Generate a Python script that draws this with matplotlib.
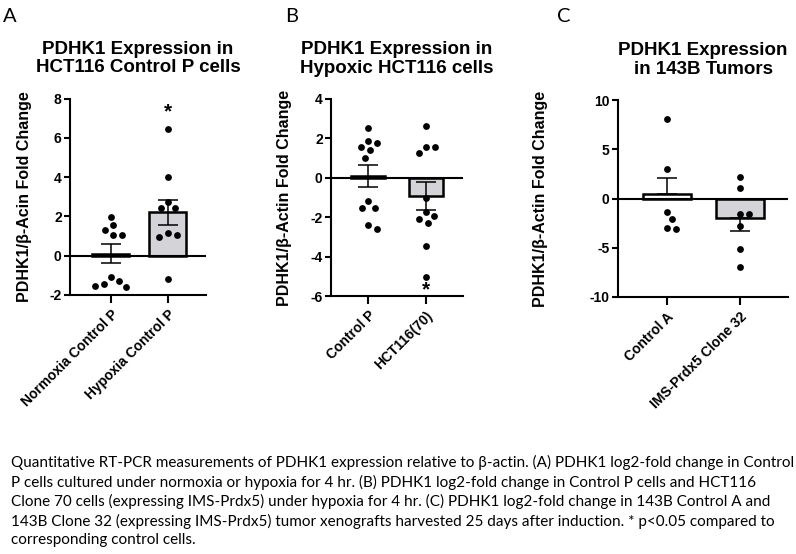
import numpy as np
import matplotlib.pyplot as plt

plt.rcParams['font.family'] = ['Liberation Sans', 'DejaVu Sans']
plt.rcParams['axes.unicode_minus'] = False

# ---- data ----
# Panel A
a_labels = ['Normoxia Control P', 'Hypoxia Control P']
a_normoxia = [1.98, 1.54, 1.29, 1.07, 1.07, -1.10, -1.30, -1.42, -1.56, -1.60]
a_hypoxia = [6.44, 4.03, 2.71, 2.42, 2.42, 1.15, 1.07, 0.95, -1.19]
a_means = [0.10, 2.20]
a_sems = [0.47, 0.64]

# Panel B
b_labels = ['Control P', 'HCT116(70)']
b_control = [2.54, 1.86, 1.75, 1.58, 1.41, 1.02, -1.17, -1.51, -1.51, -2.42, -2.58]
b_clone70 = [2.64, 1.58, 1.58, 1.24, -1.05, -1.75, -1.93, -2.08, -2.27, -3.46, -5.03]
b_means = [0.10, -0.92]
b_sems = [0.57, 0.72]

# Panel C
c_labels = ['Control A', 'IMS-Prdx5 Clone 32']
c_control = [8.03, 2.98, -1.36, -2.10, -2.95, -3.05]
c_clone32 = [2.14, 1.08, -1.60, -1.60, -2.75, -5.08, -6.95]
c_means = [0.45, -2.03]
c_sems = [1.60, 1.27]

caption = ("Quantitative RT-PCR measurements of PDHK1 expression relative to \u03b2-actin. (A) PDHK1 log2-fold change in Control\n"
           "P cells cultured under normoxia or hypoxia for 4 hr. (B) PDHK1 log2-fold change in Control P cells and HCT116\n"
           "Clone 70 cells (expressing IMS-Prdx5) under hypoxia for 4 hr. (C) PDHK1 log2-fold change in 143B Control A and\n"
           "143B Clone 32 (expressing IMS-Prdx5) tumor xenografts harvested 25 days after induction. * p<0.05 compared to\n"
           "corresponding control cells.")

W, H = 796, 554
fig = plt.figure(figsize=(W / 100, H / 100), dpi=100)


def swarm(values, ppu_y, min_d=9.0, step=0.5):
    # simple greedy beeswarm, offsets in pixels
    order = np.argsort(values)[::-1]
    placed = []
    offs = np.zeros(len(values))
    for i in order:
        y = values[i] * ppu_y
        k = 0
        while True:
            cands = [0.0] if k == 0 else [k * step, -k * step]
            ok = None
            for dx in cands:
                if all((dx - px) ** 2 + (y - py) ** 2 >= min_d ** 2 for px, py in placed):
                    ok = dx
                    break
            if ok is not None:
                break
            k += 1
        offs[i] = ok
        placed.append((ok, y))
    return offs


def panel(rect_px, groups, labels, means, sems, ylim, yticks, xlim, bar_w,
          title, ylabel, ylabel_px, letter, letter_px, one_sided=False, stars=()):
    l, t, r, b = rect_px
    ax = fig.add_axes([l / W, 1 - b / H, (r - l) / W, (b - t) / H])
    ax.set_xlim(*xlim)
    ax.set_ylim(*ylim)
    ppu_y = (b - t) / (ylim[1] - ylim[0])
    ppu_x = (r - l) / (xlim[1] - xlim[0])
    x = np.arange(len(groups))

    ax.bar(x, means, width=bar_w, color=['white', '#d3d3d8'], edgecolor='black',
           linewidth=1.8, zorder=2)
    for xi, m, s in zip(x, means, sems):
        if one_sided:
            err = [[0], [s]] if m >= 0 else [[s], [0]]
        else:
            err = [[s], [s]]
        ax.errorbar([xi], [m], yerr=err, fmt='none', ecolor='black',
                    elinewidth=1.1, capsize=7.5, capthick=1.1, zorder=3)
    for xi, vals in zip(x, groups):
        vals = np.array(vals)
        dx = swarm(vals, ppu_y) / ppu_x
        ax.scatter(xi + dx, vals, s=24, color='black', zorder=4, linewidths=0)
    for xi, ys in stars:
        ax.text(xi, ys, '*', ha='center', va='center', fontsize=15, fontweight='bold')

    ax.axhline(0, color='black', lw=1.5, zorder=2.5)
    for side in ['top', 'right']:
        ax.spines[side].set_visible(False)
    for side in ['left', 'bottom']:
        ax.spines[side].set_linewidth(1.5)
    ax.set_yticks(yticks)
    ax.set_xticks(x)
    ax.set_xticklabels(labels, rotation=45, ha='right', rotation_mode='anchor',
                       fontsize=10, fontweight='bold')
    ax.tick_params(axis='y', length=4, width=1.5, labelsize=10, pad=2)
    ax.tick_params(axis='x', length=6, width=1.5, pad=3)
    for lab in ax.get_yticklabels():
        lab.set_fontweight('bold')
    ax.set_ylabel(ylabel, fontsize=11.5, fontweight='bold')
    ax.yaxis.set_label_coords(-(l - ylabel_px) / (r - l), 0.5)
    ax.set_title(title, fontsize=13.5, fontweight='bold', pad=19, linespacing=1.1)
    fig.text(letter_px / W, 1 - 22 / H, letter, fontsize=14.5, family=['Lato', 'DejaVu Sans'])
    return ax


panel((70, 98.5, 206, 295), [a_normoxia, a_hypoxia], a_labels, a_means, a_sems,
      (-2, 8), np.arange(-2, 9, 2), (-0.72, 1.67), 0.65,
      'PDHK1 Expression in\nHCT116 Control P cells', 'PDHK1/\u03b2-Acin Fold Change', 32,
      'A', 3, stars=[(1, 7.3)])
panel((331, 99, 463, 296), [b_control, b_clone70], b_labels, b_means, b_sems,
      (-6, 4), np.arange(-6, 5, 2), (-0.64, 1.64), 0.6,
      'PDHK1 Expression in\nHypoxic HCT116 cells', 'PDHK1/\u03b2-Actin Fold Change', 292,
      'B', 285, stars=[(1, -5.7)])
panel((618, 100, 788, 297), [c_control, c_clone32], c_labels, c_means, c_sems,
      (-10, 10), np.arange(-10, 11, 5), (-0.67, 1.66), 0.66,
      'PDHK1 Expression\nin 143B Tumors', 'PDHK1/\u03b2-Actin Fold Change', 548,
      'C', 557, one_sided=True)

fig.text(11 / W, 1 - 455 / H, caption, ha='left', va='top', fontsize=11,
         linespacing=1.38, family=['Lato', 'DejaVu Sans'])

fig.savefig('out.png', dpi=100)
